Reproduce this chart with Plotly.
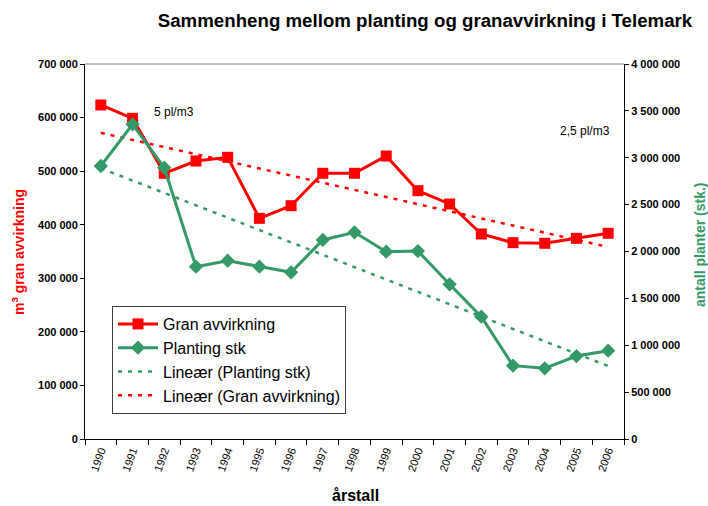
import numpy as np
import plotly.graph_objects as go

years = [str(y) for y in range(1990, 2007)]
gran_avvirkning = [623500, 598600, 496000, 518900, 525800, 411900, 435500, 496000, 496000,
                   528300, 463500, 438700, 382700, 366500, 365300, 374600, 384000]
planting_stk = [2912000, 3357000, 2894000, 1838000, 1902000, 1838000, 1778000, 2123000, 2205000,
                1998000, 2005000, 1650000, 1305000, 782000, 754000, 885000, 942000]

left_ticks = list(range(0, 700001, 100000))
right_ticks = list(range(0, 4000001, 500000))

idx = np.arange(len(years))
g_fit = np.polyval(np.polyfit(idx, gran_avvirkning, 1), idx)
p_fit = np.polyval(np.polyfit(idx, planting_stk, 1), idx)
boundaries = [i - 0.5 for i in range(len(years) + 1)]

RED = "#FF0000"
GREEN = "#339966"
FONT = "Arial, Liberation Sans, sans-serif"

fig = go.Figure()
fig.add_trace(go.Scatter(x=years, y=gran_avvirkning, name="Gran avvirkning", mode="lines+markers",
                         line=dict(color=RED, width=3), marker=dict(symbol="square", size=11, color=RED),
                         legendrank=1))
fig.add_trace(go.Scatter(x=years, y=planting_stk, name="Planting stk", mode="lines+markers", yaxis="y2",
                         line=dict(color=GREEN, width=3), marker=dict(symbol="diamond", size=11, color=GREEN),
                         legendrank=2))
fig.add_trace(go.Scatter(x=years, y=p_fit, name="Lineær (Planting stk)", mode="lines", yaxis="y2",
                         line=dict(color=GREEN, width=2.5, dash="4px,6px"), legendrank=3))
fig.add_trace(go.Scatter(x=years, y=g_fit, name="Lineær (Gran avvirkning)", mode="lines",
                         line=dict(color=RED, width=2.5, dash="4px,6px"), legendrank=4))

inner_tick = dict(ticks="inside", ticklen=4, tickcolor="black", showticklabels=False, showline=False,
                  showgrid=False, zeroline=False, automargin=False, fixedrange=True)

fig.update_layout(
    width=708, height=506,
    margin=dict(l=85, r=84, t=64, b=67, autoexpand=False),
    paper_bgcolor="white", plot_bgcolor="white",
    separators=", ",
    font=dict(family=FONT, color="black"),
    title=dict(text="<b>Sammenheng mellom planting og granavvirkning i Telemark</b>",
               x=425 / 708, xanchor="center", y=1 - 20 / 506, yanchor="middle",
               font=dict(size=18.7, color="black", family=FONT)),
    xaxis=dict(type="category", range=[-0.5, len(years) - 0.5], autorange=False,
               tickson="boundaries", ticks="outside", ticklen=5, tickcolor="black",
               showline=True, linecolor="black", linewidth=1, showgrid=False, mirror=False,
               automargin=False, tickangle=-70, tickfont=dict(size=11, family=FONT)),
    xaxis2=dict(overlaying="x", side="bottom", anchor="y", range=[-0.5, len(years) - 0.5],
                tickvals=boundaries, **inner_tick),
    yaxis=dict(range=[0, 700000], tickvals=left_ticks, tickformat=",d", ticks="outside", ticklen=4,
               tickcolor="black", showline=True, linecolor="black", linewidth=1, showgrid=False,
               zeroline=False, automargin=False, tickfont=dict(size=11, family=FONT, weight="bold")),
    yaxis2=dict(range=[0, 4000000], tickvals=right_ticks, tickformat=",d", overlaying="y", side="right",
                ticks="outside", ticklen=4, tickcolor="black", showline=True, linecolor="black", linewidth=1,
                showgrid=False, zeroline=False, automargin=False,
                tickfont=dict(size=11, family=FONT, weight="bold")),
    yaxis3=dict(overlaying="y", side="left", anchor="x", range=[0, 700000], tickvals=left_ticks, **inner_tick),
    yaxis4=dict(overlaying="y", side="right", anchor="x", range=[0, 4000000], tickvals=right_ticks,
                **inner_tick),
    legend=dict(x=27 / 539, y=(439 - 306) / 375, xanchor="left", yanchor="top", bgcolor="white",
                bordercolor="#404040", borderwidth=1, font=dict(size=16, family=FONT),
                tracegroupgap=0, itemwidth=40),
    showlegend=True,
    shapes=[dict(type="line", xref="paper", yref="paper", x0=0, x1=1, y0=1, y1=1,
                 line=dict(color="#808080", width=1))],
    annotations=[
        dict(text="5 pl/m3", xref="paper", yref="paper", x=(152 - 85) / 539, y=(439 - 112) / 375,
             xanchor="left", yanchor="middle", showarrow=False, font=dict(size=12, family=FONT)),
        dict(text="2,5 pl/m3", xref="paper", yref="paper", x=(558 - 85) / 539, y=(439 - 131) / 375,
             xanchor="left", yanchor="middle", showarrow=False, font=dict(size=12, family=FONT)),
        dict(text="<b>årstall</b>", xref="paper", yref="paper", x=(355 - 85) / 539, y=-(495 - 439) / 375,
             xanchor="center", yanchor="middle", showarrow=False, font=dict(size=16, family=FONT)),
        dict(text="<b>m<sup>3</sup> gran avvirkning</b>", xref="paper", yref="paper", x=-(85 - 18) / 539,
             y=(439 - 252) / 375, xanchor="center", yanchor="middle", textangle=-90, showarrow=False,
             font=dict(size=14, color=RED, family=FONT)),
        dict(text="<b>antall planter (stk.)</b>", xref="paper", yref="paper", x=1 + (700 - 624) / 539,
             y=(439 - 245) / 375, xanchor="center", yanchor="middle", textangle=-90, showarrow=False,
             font=dict(size=14, color=GREEN, family=FONT)),
    ],
)

fig.write_html("out.html", config={"displayModeBar": False},
               post_script="document.body.style.margin='0';document.body.style.padding='0';")
